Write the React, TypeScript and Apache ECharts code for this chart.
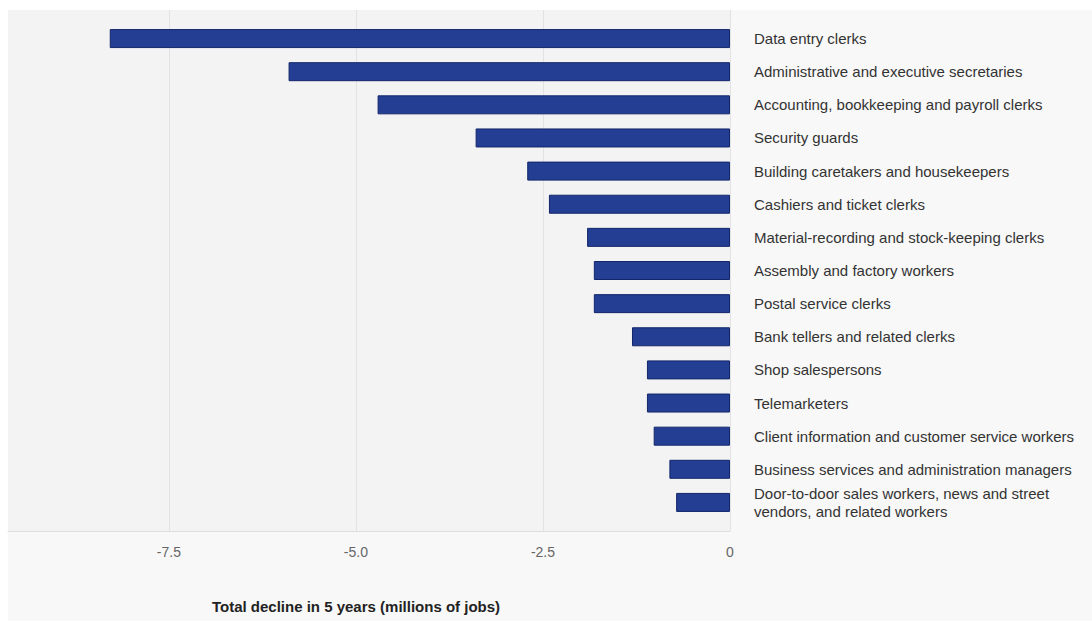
import React, { useEffect, useRef } from "react";
import * as echarts from "echarts";

const categories: string[] = [
  "Data entry clerks",
  "Administrative and executive secretaries",
  "Accounting, bookkeeping and payroll clerks",
  "Security guards",
  "Building caretakers and housekeepers",
  "Cashiers and ticket clerks",
  "Material-recording and stock-keeping clerks",
  "Assembly and factory workers",
  "Postal service clerks",
  "Bank tellers and related clerks",
  "Shop salespersons",
  "Telemarketers",
  "Client information and customer service workers",
  "Business services and administration managers",
  "Door-to-door sales workers, news and street\nvendors, and related workers",
];

const declineValues: number[] = [
  -8.29, -5.9, -4.71, -3.4, -2.71, -2.42, -1.91, -1.82, -1.82, -1.31, -1.11, -1.11, -1.02, -0.81, -0.72,
];

const axisMin = -9.65;
const axisMax = 0;
const tickValues: number[] = [-7.5, -5, -2.5, 0];
const axisTitle = "Total decline in 5 years (millions of jobs)";

export default function App() {
  const ref = useRef<HTMLDivElement>(null);

  useEffect(() => {
    if (!ref.current) return;
    const chart = echarts.init(ref.current, undefined, { renderer: "svg" });
    const font = "'Liberation Sans', Arial, Helvetica, sans-serif";
    chart.setOption({
      animation: false,
      backgroundColor: "#ffffff",
      textStyle: { fontFamily: font },
      graphic: [
        {
          type: "rect",
          z: -20,
          silent: true,
          shape: { x: 8, y: 10, width: 1084, height: 611 },
          style: { fill: "#f8f8f8" },
        },
        {
          type: "rect",
          z: -19,
          silent: true,
          shape: { x: 8, y: 10, width: 722, height: 521 },
          style: { fill: "#f3f3f3" },
        },
      ],
      grid: [
        { left: 8, right: 362, top: 22, height: 497, containLabel: false },
        { left: 8, right: 362, top: 10, bottom: 90, containLabel: false },
      ],
      xAxis: [
        {
          type: "value",
          gridIndex: 0,
          min: axisMin,
          max: axisMax,
          show: false,
          splitLine: { show: false },
        },
        {
          type: "value",
          gridIndex: 1,
          min: axisMin,
          max: axisMax,
          axisLine: { show: true, lineStyle: { color: "#dedede", width: 1 } },
          axisTick: { show: false, customValues: tickValues },
          splitLine: { show: true, lineStyle: { color: "#e2e2e2", width: 1 } },
          axisLabel: {
            customValues: tickValues,
            margin: 14,
            color: "#666666",
            fontSize: 14,
            fontFamily: font,
            formatter: (v: number) => (v === 0 ? "0" : v.toFixed(1)),
          },
          name: axisTitle,
          nameLocation: "middle",
          nameGap: 68,
          nameTextStyle: {
            fontWeight: "bold",
            fontSize: 15,
            color: "#222222",
            fontFamily: font,
            padding: [0, 26, 0, 0],
          },
        },
      ],
      yAxis: [
        {
          type: "category",
          gridIndex: 0,
          data: categories,
          inverse: true,
          position: "right",
          axisLine: { show: false },
          axisTick: { show: false },
          splitLine: { show: false },
          axisLabel: {
            margin: 24,
            align: "left",
            color: "#333333",
            fontSize: 15,
            lineHeight: 18,
            fontFamily: font,
          },
        },
        {
          type: "value",
          gridIndex: 1,
          show: false,
          splitLine: { show: false },
        },
      ],
      series: [
        {
          type: "bar",
          xAxisIndex: 0,
          yAxisIndex: 0,
          data: declineValues,
          barWidth: 19,
          itemStyle: {
            color: "#233e93",
            borderColor: "#13266a",
            borderWidth: 1,
          },
        },
      ],
    });
    return () => chart.dispose();
  }, []);

  return (
    <div
      ref={ref}
      style={{ position: "fixed", left: 0, top: 0, width: 1092, height: 621 }}
    />
  );
}
